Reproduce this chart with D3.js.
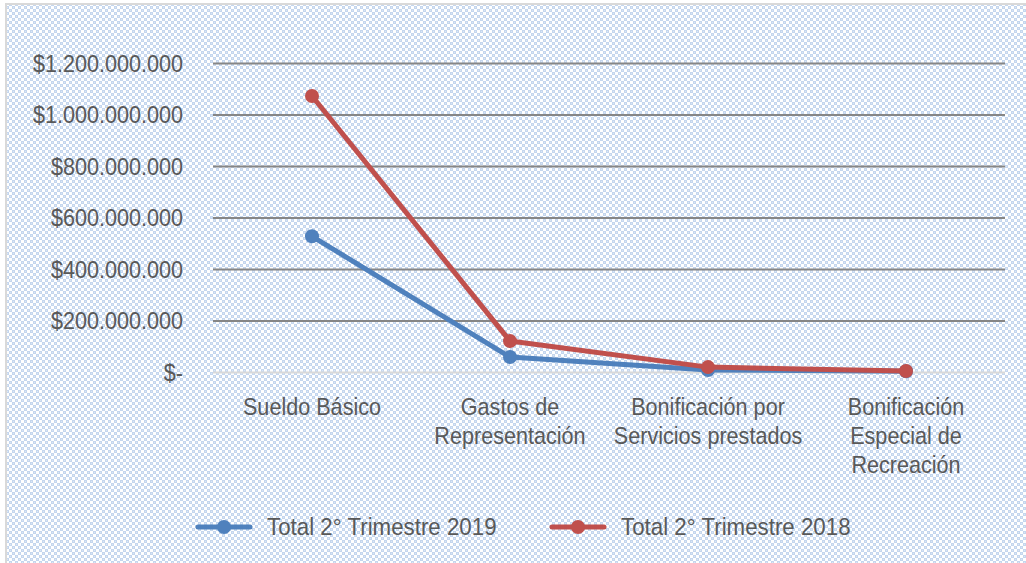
<!DOCTYPE html>
<html><head><meta charset="utf-8">
<script src="https://cdn.jsdelivr.net/npm/d3@7"></script>
<style>html,body{margin:0;padding:0;background:#fff;}svg{display:block;}</style>
</head><body>
<svg id="c" width="1026" height="563"></svg>
<script>
const categories = [["Sueldo Básico"], ["Gastos de","Representación"], ["Bonificación por","Servicios prestados"], ["Bonificación","Especial de","Recreación"]];
const seriesNames = ["Total 2° Trimestre 2019", "Total 2° Trimestre 2018"];
const values2019 = [527000000, 58000000, 8000000, 3000000];
const values2018 = [1072000000, 120000000, 19000000, 4000000];
const yTicks = [0, 200000000, 400000000, 600000000, 800000000, 1000000000, 1200000000];
const tickLabels = ["$-", "$200.000.000", "$400.000.000", "$600.000.000", "$800.000.000", "$1.000.000.000", "$1.200.000.000"];
const colors = ["#4f81bd", "#c0504d"];

(function(){
const svg = d3.select("#c");
const W = 1026, H = 563;
const SX = 0.9, FS = "24px";
const defs = svg.append("defs");
const pat = defs.append("pattern").attr("id","bg").attr("width",6).attr("height",6).attr("patternUnits","userSpaceOnUse");
pat.append("rect").attr("width",6).attr("height",6).attr("fill","#ffffff");
pat.append("rect").attr("x",0).attr("y",0).attr("width",3).attr("height",3).attr("fill","#c4d6ee");
pat.append("rect").attr("x",3).attr("y",3).attr("width",3).attr("height",3).attr("fill","#c4d6ee");
pat.append("rect").attr("x",1).attr("y",1).attr("width",1).attr("height",1).attr("fill","#dce7f5");
pat.append("rect").attr("x",4).attr("y",4).attr("width",1).attr("height",1).attr("fill","#dce7f5");

svg.append("rect").attr("x",6).attr("y",4).attr("width",W+10).attr("height",H+10)
  .attr("fill","url(#bg)").attr("stroke","#d9d9d9").attr("stroke-width",2);

const pLeft = 213, pRight = 1005, pTop = 63, pBottom = 372;
const x = d3.scaleBand().domain(d3.range(categories.length)).range([pLeft, pRight]);
const y = d3.scaleLinear().domain([0, 1200000000]).range([pBottom, pTop]);
const font = "'Liberation Sans', Arial, sans-serif";

const yAxis = d3.axisLeft(y).tickValues(yTicks).tickSize(-(pRight-pLeft)).tickFormat((d,i)=>tickLabels[i]).tickPadding(30);
const ga = svg.append("g").attr("transform",`translate(${pLeft},0)`).call(yAxis);
ga.select(".domain").remove();
ga.selectAll(".tick line").attr("stroke",d=>d===0?"#d9d9d9":"#868686").attr("stroke-width",2);
ga.selectAll(".tick text").attr("fill","#595959").attr("font-family",font).attr("font-size",FS)
  .attr("dy","0.35em").attr("x",-30/SX).attr("transform",`scale(${SX},1)`);

function label(g, tx, ty, t, anchor, sx){
  return g.append("text").attr("transform",`translate(${tx},${ty}) scale(${sx||SX},1)`)
    .attr("text-anchor",anchor).attr("fill","#595959").attr("font-family",font).attr("font-size",FS).text(t);
}

const xc = i => x(i) + x.bandwidth()/2;
const cl = svg.append("g");
categories.forEach((lines,i)=>{
  lines.forEach((t,j)=>{ label(cl, xc(i), 415+29*j, t, "middle"); });
});

const allSeries = [values2019, values2018];
const line = d3.line().x((d,i)=>xc(i)).y(d=>y(d));
allSeries.forEach((vals,s)=>{
  svg.append("path").datum(vals).attr("d",line).attr("fill","none").attr("stroke",colors[s])
    .attr("stroke-width",5).attr("stroke-linejoin","round").attr("stroke-linecap","round");
  svg.append("g").selectAll("circle").data(vals).join("circle")
    .attr("cx",(d,i)=>xc(i)).attr("cy",d=>y(d)).attr("r",7).attr("fill",colors[s]);
});

const legX = [198, 552];
seriesNames.forEach((n,s)=>{
  const g = svg.append("g").attr("transform",`translate(${legX[s]},527)`);
  g.append("line").attr("x1",0).attr("x2",52).attr("stroke",colors[s]).attr("stroke-width",5).attr("stroke-linecap","round");
  g.append("circle").attr("cx",26).attr("r",7).attr("fill",colors[s]);
  label(g, 69, 0, n, "start", 0.93).attr("dy","0.35em");
});
})();
</script>
</body></html>
